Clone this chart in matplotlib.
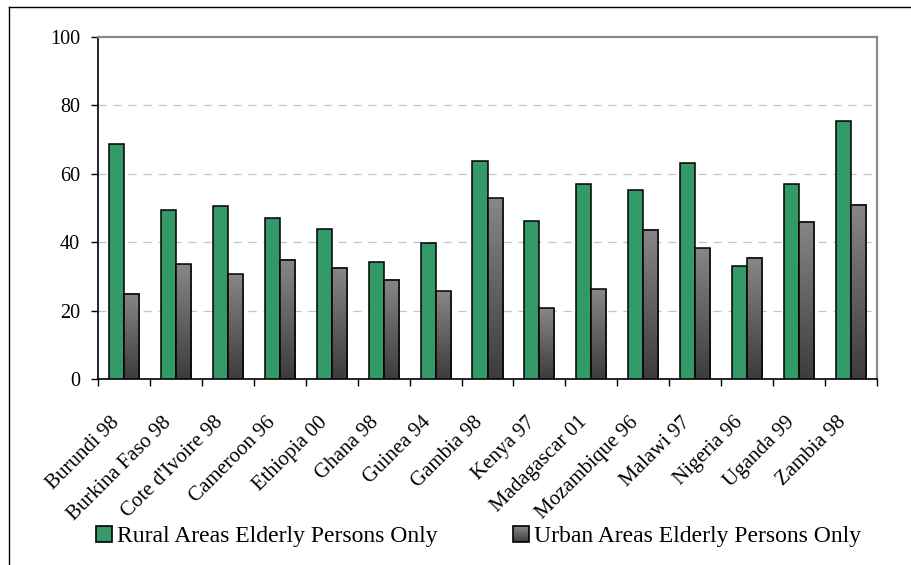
import numpy as np
import matplotlib
matplotlib.use("Agg")
import matplotlib.pyplot as plt
from matplotlib.colors import LinearSegmentedColormap
from matplotlib.lines import Line2D
from matplotlib.patches import Patch, Rectangle
from matplotlib.transforms import ScaledTranslation
from matplotlib.legend_handler import HandlerBase

countries = ["Burundi 98", "Burkina Faso 98", "Cote d'Ivoire 98", "Cameroon 96",
             "Ethiopia 00", "Ghana 98", "Guinea 94", "Gambia 98", "Kenya 97",
             "Madagascar 01", "Mozambique 96", "Malawi 97", "Nigeria 96",
             "Uganda 99", "Zambia 98"]
rural = [68.6, 49.3, 50.6, 47.2, 43.9, 34.3, 39.8, 63.6, 46.2, 57.0, 55.4, 63.1, 33.1, 57.0, 75.3]
urban = [25.0, 33.6, 30.6, 34.8, 32.6, 29.0, 25.6, 52.8, 20.7, 26.3, 43.6, 38.3, 35.4, 46.0, 50.9]
series_names = ["Rural Areas Elderly Persons Only", "Urban Areas Elderly Persons Only"]
yticks = [0, 20, 40, 60, 80, 100]

plt.rcParams['font.family'] = ['Liberation Serif', 'DejaVu Serif']

fig = plt.figure(figsize=(9.11, 5.65), dpi=100)
ax = fig.add_axes([98/911, 1-379/565, (877-98)/911, (379-37)/565])

green = '#339966'
dark, light = '#3c3c3c', '#878787'
n = len(countries)
x = np.arange(n) + 0.5
w = 0.29

ax.bar(x - w/2, rural, width=w, color=green, edgecolor='black', linewidth=1.1, zorder=3)

cmap = LinearSegmentedColormap.from_list('g', [dark, light])
grad = np.linspace(0, 1, 256).reshape(-1, 1)
ubars = ax.bar(x + w/2, urban, width=w, facecolor='none', edgecolor='black', linewidth=1.1, zorder=4)
for b in ubars:
    x0, y0 = b.get_x(), b.get_y()
    ax.imshow(grad, cmap=cmap, origin='lower', aspect='auto',
              extent=(x0, x0 + b.get_width(), y0, y0 + b.get_height()), zorder=3)

ax.set_xlim(0, n)
ax.set_ylim(0, 100)
ax.set_yticks(yticks)
ax.set_yticklabels([str(v) for v in yticks])
for v in yticks[1:-1]:
    ax.axhline(v, color='#c4c4c4', linewidth=0.9, linestyle=(0, (6.5, 5.5)), zorder=1)

ax.set_xticks(np.arange(n + 1))
ax.set_xticklabels([])
ax.set_xticks(x, minor=True)
ax.set_xticklabels(countries, minor=True, rotation=45, ha='right', rotation_mode='anchor')
ax.tick_params(axis='x', which='minor', length=0, pad=10, labelsize=15)
ax.tick_params(axis='x', which='major', length=5, direction='out', width=1)
ax.tick_params(axis='y', length=5, direction='out', width=1, pad=8, labelsize=14.5)
off = ScaledTranslation(-14/100, -20/100, fig.dpi_scale_trans)
for lab in ax.get_xticklabels(minor=True):
    lab.set_transform(lab.get_transform() + off)

for s in ['left', 'bottom']:
    ax.spines[s].set_color('black')
    ax.spines[s].set_linewidth(1.2)
for s in ['top', 'right']:
    ax.spines[s].set_color('#8a8a8a')
    ax.spines[s].set_linewidth(1.6)


class GradientHandler(HandlerBase):
    def create_artists(self, legend, orig_handle, xdescent, ydescent, width, height, fontsize, trans):
        arts = []
        steps = 20
        cm = LinearSegmentedColormap.from_list('h', [dark, light])
        for i in range(steps):
            r = Rectangle((-xdescent, -ydescent + height * i / steps), width, height / steps + 0.01,
                          facecolor=cm(i / (steps - 1)), edgecolor='none', transform=trans)
            arts.append(r)
        arts.append(Rectangle((-xdescent, -ydescent), width, height, facecolor='none',
                              edgecolor='black', linewidth=1.2, transform=trans))
        return arts


rural_handle = Patch(facecolor=green, edgecolor='black', linewidth=1.2)
urban_handle = Patch(facecolor='#5e5e5e', edgecolor='black', linewidth=1.2)
fig.legend([rural_handle, urban_handle], series_names, loc='center', bbox_to_anchor=(0.525, 0.05),
           ncol=2, frameon=False, fontsize=17, handlelength=0.68, handleheight=0.68,
           handletextpad=0.2, columnspacing=3.2,
           handler_map={urban_handle: GradientHandler()})

fig.add_artist(Line2D([9/911, 9/911], [0, 1-7/565], color='black', linewidth=1.0))
fig.add_artist(Line2D([9/911, 1], [1-7/565, 1-7/565], color='black', linewidth=1.0))

fig.savefig('out.png', dpi=100)
